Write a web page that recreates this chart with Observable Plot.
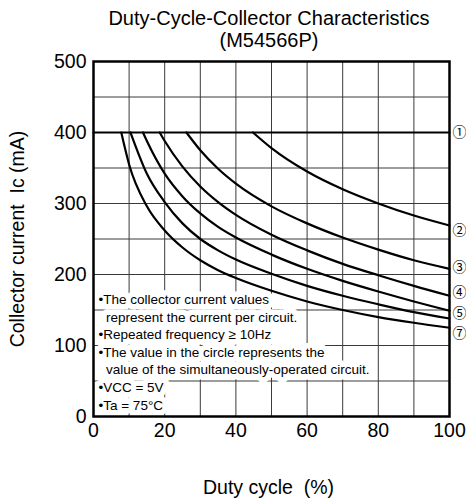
<!DOCTYPE html>
<html>
<head>
<meta charset="utf-8">
<script src="https://cdn.jsdelivr.net/npm/d3@7"></script>
<script src="https://cdn.jsdelivr.net/npm/@observablehq/plot@0.6"></script>
<style>
  body { margin: 0; background: #fff; font-family: "Liberation Sans", Arial, sans-serif; }
  #title { width: 466px; box-sizing: border-box; padding: 7px 0 0 72px; text-align: center;
           font-size: 20px; line-height: 22px; color: #000; height: 51px; }
</style>
</head>
<body>
<div id="title">Duty-Cycle-Collector Characteristics<br>(M54566P)</div>
<div id="chart"></div>
<script>
// ---- data ----
const curveNames = ["①", "②", "③", "④", "⑤", "⑥", "⑦"];
const duty1 = [0, 100];
const ic1   = [400, 400];
const duty2 = [44.8, 50, 60, 70, 80, 90, 100];
const ic2   = [400, 378, 345, 320, 300, 283, 269];
const duty3 = [26.1, 30, 35, 40, 50, 60, 70, 80, 90, 100];
const ic3   = [400, 375, 349, 328, 296, 272, 252, 235, 220, 208];
const duty4 = [18.6, 20, 25, 30, 35, 40, 50, 60, 70, 80, 90, 100];
const ic4   = [400, 388, 352, 324, 302, 284, 256, 234, 215, 199, 184, 170];
const duty5 = [13.9, 15, 20, 25, 30, 35, 40, 50, 60, 70, 80, 90, 100];
const ic5   = [400, 388, 342, 310, 286, 267, 252, 228, 208, 191, 176, 162, 149];
const duty6 = [10.4, 15, 20, 25, 30, 35, 40, 50, 60, 70, 80, 90, 100];
const ic6   = [400, 342, 302, 272, 250, 234, 221, 201, 184, 170, 158, 147, 138];
const duty7 = [7.8, 10, 15, 20, 25, 30, 35, 40, 50, 60, 70, 80, 90, 100];
const ic7   = [400, 355, 296, 262, 238, 220, 206, 195, 177, 162, 150, 140, 132, 125];

// end labels shown at the right edge (⑥ is not labelled in the reference)
const endLabels = ["①", "②", "③", "④", "⑤", "⑦"];
const endLabelIc = [400, 262, 210, 175, 145, 117];

const xTicks = [0, 20, 40, 60, 80, 100];
const yTicks = [0, 100, 200, 300, 400, 500];
const xGrid = [10, 20, 30, 40, 50, 60, 70, 80, 90];
const yGrid = [50, 100, 150, 200, 250, 300, 350, 400, 450];

const notes = [
  "•The collector current values",
  "\u00a0\u00a0represent the current per circuit.",
  "•Repeated frequency ≥ 10Hz",
  "•The value in the circle represents the",
  "\u00a0\u00a0value of the simultaneously-operated circuit.",
  "•VCC = 5V",
  "•Ta = 75°C"
];
const xLabel = "Duty cycle  (%)";
const yLabel = "Collector current  Ic (mA)";

// ---- build table ----
const dutyAll = [duty1, duty2, duty3, duty4, duty5, duty6, duty7];
const icAll = [ic1, ic2, ic3, ic4, ic5, ic6, ic7];
const rows = [];
dutyAll.forEach((ds, i) => ds.forEach((d, j) => rows.push({curve: curveNames[i], duty: d, ic: icAll[i][j]})));
const labelRows = endLabels.map((t, i) => ({t, ic: endLabelIc[i]}));
const noteText = notes.join("\n");

const font = "Liberation Sans, Arial, sans-serif";

const plot = Plot.plot({
  width: 466,
  height: 450,
  marginTop: 10,
  marginLeft: 93,
  marginRight: 17,
  marginBottom: 85,
  style: {fontFamily: font, fontSize: "19px", color: "#000", background: "#fff"},
  x: {domain: [0, 100]},
  y: {domain: [0, 500]},
  marks: [
    Plot.ruleX(xGrid, {stroke: "#3a3a3a", strokeWidth: 1}),
    Plot.ruleY(yGrid, {stroke: "#3a3a3a", strokeWidth: 1}),
    // white halo behind the notes
    Plot.text([noteText], {frameAnchor: "bottom-left", textAnchor: "start", lineAnchor: "bottom",
      dx: 5, dy: -7, lineHeight: 1.3, fontSize: 13.5, fill: "white", stroke: "white", strokeWidth: 11}),
    Plot.line(rows, {x: "duty", y: "ic", z: "curve", stroke: "black", strokeWidth: 2.2, curve: "monotone-x"}),
    Plot.text([noteText], {frameAnchor: "bottom-left", textAnchor: "start", lineAnchor: "bottom",
      dx: 5, dy: -7, lineHeight: 1.3, fontSize: 13.5, fill: "black"}),
    Plot.frame({stroke: "black", strokeWidth: 2.5}),
    Plot.axisX(xTicks, {tickSize: 0, tickPadding: 7, label: null, fontSize: 19.5}),
    Plot.axisY(yTicks, {tickSize: 0, tickPadding: 7, label: null, fontSize: 19.5}),
    Plot.text(labelRows, {x: 100, y: "ic", text: "t", dx: 3, textAnchor: "start",
      fontFamily: "Noto Sans CJK JP", fontSize: 14, fill: "black"}),
    Plot.text([xLabel], {frameAnchor: "bottom", dx: -3, dy: 71, fontSize: 19.5, lineAnchor: "middle"}),
    Plot.text([yLabel], {frameAnchor: "left", dx: -76, rotate: -90, fontSize: 19.5, textAnchor: "middle"})
  ]
});
document.getElementById("chart").appendChild(plot);
</script>
</body>
</html>
